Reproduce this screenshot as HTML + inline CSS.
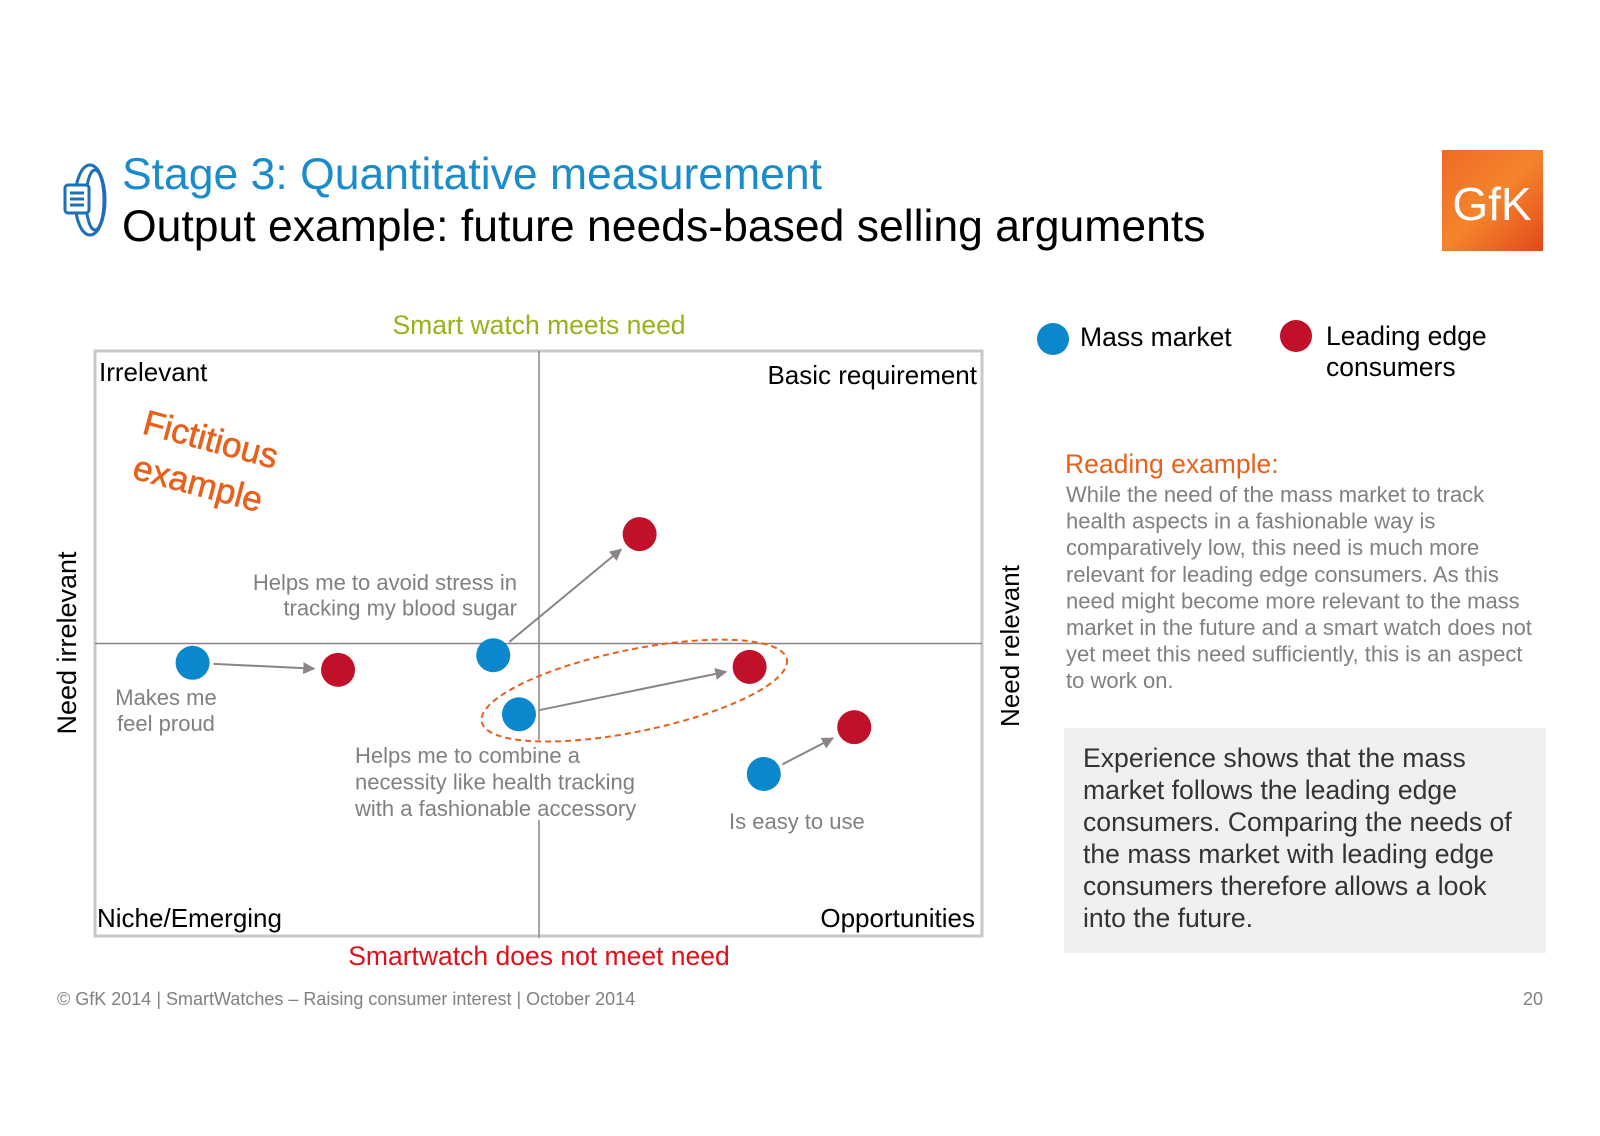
<!DOCTYPE html>
<html><head><meta charset="utf-8"><style>
html,body{margin:0;padding:0;background:#fff;}
svg{display:block;font-family:"Liberation Sans",Arial,sans-serif;}
</style></head><body>
<svg id="chart" width="1600" height="1136" viewBox="0 0 1600 1136">
<defs>
<marker id="ah" viewBox="0 0 10 10" refX="9" refY="5" markerWidth="6" markerHeight="6" orient="auto"><path d="M0,0 L10,5 L0,10 z" fill="#8c8484"/></marker>
<linearGradient id="lg" x1="0" y1="0" x2="1" y2="1"><stop offset="0" stop-color="#f06a25"/><stop offset="0.5" stop-color="#f4842c"/><stop offset="1" stop-color="#e2481a"/></linearGradient>
</defs>
<g fill="none" stroke="#1f6fb5" stroke-width="3">
<ellipse cx="90" cy="200" rx="15" ry="35"/><ellipse cx="95" cy="200" rx="9" ry="30"/>
<rect x="65" y="185" width="24" height="28" rx="3" fill="#fff"/>
<line x1="70" y1="193" x2="84" y2="193"/><line x1="70" y1="199" x2="84" y2="199"/><line x1="70" y1="205" x2="84" y2="205"/>
</g>
<text x="122" y="189" font-size="44.5" fill="#1a8ccc">Stage 3: Quantitative measurement</text>
<text x="122" y="241" font-size="44.5" fill="#000">Output example: future needs-based selling arguments</text>
<g>
<rect x="1442" y="150" width="101" height="101" fill="url(#lg)"/>
<text x="1492" y="220" font-size="46" fill="#fff" text-anchor="middle">GfK</text>
</g>

<rect x="95" y="351" width="887" height="585" fill="none" stroke="#c8c8c8" stroke-width="3"/>
<line x1="539" y1="351" x2="539" y2="938" stroke="#8c8484" stroke-width="1.5"/>
<line x1="95" y1="643.5" x2="982" y2="643.5" stroke="#8c8484" stroke-width="1.5"/>
<text x="539" y="334" font-size="26.5" fill="#9bb01a" text-anchor="middle">Smart watch meets need</text>
<text x="539" y="965" font-size="26.5" fill="#e0101a" text-anchor="middle">Smartwatch does not meet need</text>
<text transform="translate(76,643) rotate(-90)" font-size="27" fill="#000" text-anchor="middle">Need irrelevant</text>
<text transform="translate(1019,646) rotate(-90)" font-size="26" fill="#000" text-anchor="middle">Need relevant</text>
<g font-size="26" fill="#000">
<text x="99" y="381">Irrelevant</text>
<text x="977" y="384" text-anchor="end">Basic requirement</text>
<text x="97" y="927">Niche/Emerging</text>
<text x="975" y="927" text-anchor="end">Opportunities</text>
</g>
<g fill="#e8601c" font-size="35" font-weight="bold">
<text transform="translate(141,433) rotate(15)" font-weight="normal" stroke="#e8601c" stroke-width="0.6">Fictitious</text>
<text transform="translate(131,478) rotate(15)" font-weight="normal" stroke="#e8601c" stroke-width="0.6">example</text>
</g>
<rect x="345" y="740" width="300" height="80" fill="#fff"/>
<g font-size="22" fill="#808080">
<text x="517" y="590" text-anchor="end"><tspan x="517">Helps me to avoid stress in</tspan><tspan x="517" dy="25.5">tracking my blood sugar</tspan></text>
<text x="166" y="705" text-anchor="middle"><tspan x="166">Makes me</tspan><tspan x="166" dy="26">feel proud</tspan></text>
<text x="355" y="763"><tspan x="355">Helps me to combine a</tspan><tspan x="355" dy="26.5">necessity like health tracking</tspan><tspan x="355" dy="26.5">with a fashionable accessory</tspan></text>
<text x="729" y="829">Is easy to use</text>
</g>
<g id="marks"></g>

<g>
<circle cx="1053" cy="339" r="16" fill="#0a87cd"/>
<text x="1080" y="346" font-size="26.5">Mass market</text>
<circle cx="1296" cy="336" r="16" fill="#c0102a"/>
<text x="1326" y="345" font-size="26.5"><tspan x="1326">Leading edge</tspan><tspan x="1326" dy="31">consumers</tspan></text>
</g>
<text x="1065" y="473" font-size="26.5" fill="#e8601c">Reading example:</text>
<text x="1066" y="502" font-size="22" fill="#808080">
<tspan x="1066">While the need of the mass market to track</tspan>
<tspan x="1066" dy="26.6">health aspects in a fashionable way is</tspan>
<tspan x="1066" dy="26.6">comparatively low, this need is much more</tspan>
<tspan x="1066" dy="26.6">relevant for leading edge consumers. As this</tspan>
<tspan x="1066" dy="26.6">need might become more relevant to the mass</tspan>
<tspan x="1066" dy="26.6">market in the future and a smart watch does not</tspan>
<tspan x="1066" dy="26.6">yet meet this need sufficiently, this is an aspect</tspan>
<tspan x="1066" dy="26.6">to work on.</tspan>
</text>
<rect x="1064" y="728" width="482" height="225" fill="#f0f0f0"/>
<text x="1083" y="767" font-size="26.6" fill="#333">
<tspan x="1083">Experience shows that the mass</tspan>
<tspan x="1083" dy="32">market follows the leading edge</tspan>
<tspan x="1083" dy="32">consumers. Comparing the needs of</tspan>
<tspan x="1083" dy="32">the mass market with leading edge</tspan>
<tspan x="1083" dy="32">consumers therefore allows a look</tspan>
<tspan x="1083" dy="32">into the future.</tspan>
</text>
<text x="57" y="1005" font-size="18" fill="#808080">© GfK 2014 | SmartWatches – Raising consumer  interest | October 2014</text>
<text x="1543" y="1005" font-size="18" fill="#808080" text-anchor="end">20</text>
</svg>
<script>
const needs = ["feel-proud","avoid-stress","combine-fashion","easy-to-use"];
const massX = [1.10, 4.49, 4.78, 7.54];
const massY = [-0.33, -0.20, -1.21, -2.23];
const edgeX = [2.74, 6.14, 7.38, 8.56];
const edgeY = [-0.45, 1.87, -0.40, -1.43];
const highlightIndex = 2;

const X0=95, X1=982, Y0=936, Y1=351;
const xs = v => X0 + (v - 0) / 10 * (X1 - X0);
const ys = v => Y0 - (v + 5) / 10 * (Y0 - Y1);
const NS="http://www.w3.org/2000/svg";
const g=document.getElementById('marks');
const R=17;
function mk(t,a){const e=document.createElementNS(NS,t);for(const k in a)e.setAttribute(k,a[k]);g.appendChild(e);return e;}
needs.forEach((n,i)=>{
  const ax=xs(massX[i]), ay=ys(massY[i]), bx=xs(edgeX[i]), by=ys(edgeY[i]);
  const dx=bx-ax, dy=by-ay, L=Math.hypot(dx,dy), ux=dx/L, uy=dy/L;
  if(i===highlightIndex){
    const cx=(ax+bx)/2, cy=(ay+by)/2, ang=Math.atan2(dy,dx)*180/Math.PI;
    const el=mk('ellipse',{cx:cx,cy:cy,rx:L/2+38,ry:41,transform:`rotate(${ang} ${cx} ${cy})`,fill:'none',stroke:'#e8601c','stroke-width':2,'stroke-dasharray':'6 4'});
    
    
  }
  const ar=mk('line',{x1:ax+ux*(R+4),y1:ay+uy*(R+4),x2:bx-ux*(R+7),y2:by-uy*(R+7),stroke:'#8c8484','stroke-width':2,'marker-end':'url(#ah)'});
  
  
  const c1=mk('circle',{cx:ax,cy:ay,r:R,fill:'#0a87cd'});
  
  
  const c2=mk('circle',{cx:bx,cy:by,r:R,fill:'#c0102a'});
  
  
});
</script>
</body></html>
